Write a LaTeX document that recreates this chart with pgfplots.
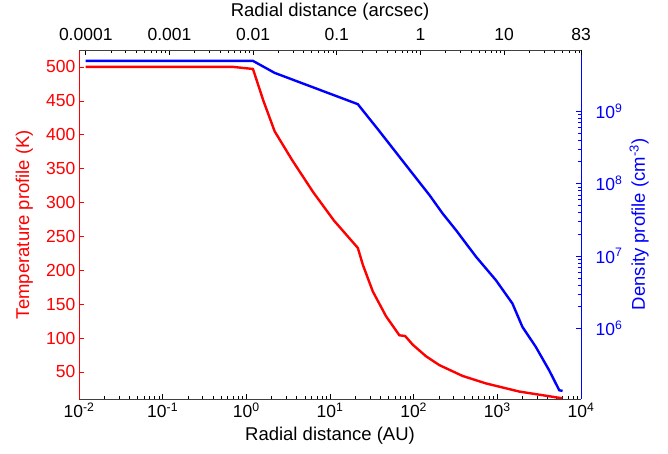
\documentclass[border=0pt]{standalone}
\usepackage{pgfplots}
\pgfplotsset{compat=1.18}
\usepackage{fontspec}
\setmainfont{Liberation Sans}
\begin{document}
\begin{tikzpicture}
\useasboundingbox (-79pt,-55pt) rectangle (589pt,399pt);
\pgfplotsset{
  every axis/.append style={
    at={(0pt,0pt)}, anchor=south west,
    scale only axis, width=502pt, height=349pt,
    font=\fontsize{17.5}{20}\selectfont,
    /pgf/number format/assume math mode=true,
    major tick length=5pt, minor tick length=3pt,
    line width=0.8pt,
    every tick/.style={line width=0.6pt},
    label style={font=\fontsize{18.5}{21}\selectfont},
  }
}
% Temperature axis (left, bottom)
\begin{axis}[name=main,
  xmode=log, xmin=1e-2, xmax=1e4,
  ymin=10, ymax=525,
  axis x line*=bottom, axis y line*=left,
  xtick={1e-2,1e-1,1e0,1e1,1e2,1e3,1e4},
  xticklabels={10\textsuperscript{-2},10\textsuperscript{-1},10\textsuperscript{0},10\textsuperscript{1},10\textsuperscript{2},10\textsuperscript{3},10\textsuperscript{4}},
  ytick={50,100,...,500},
  xlabel={Radial distance (AU)},
  ylabel={Temperature profile (K)},
  xlabel style={yshift=-2pt},
  ylabel style={red, yshift=6pt},
  y axis line style={red},
  y tick label style={red},
  ytick style={red},
  x axis line style={black!75},
]
\addplot[red, line width=2.4pt] coordinates {
(0.012,500) (0.7,500) (1.2,497) (1.6,450) (2.18,405) (3.55,362) (6.31,315)
(11.2,273) (21.5,233) (24.7,208) (32.4,169) (46.8,132) (67.5,104) (79,103)
(97.7,90) (140.6,73) (202.8,60) (384.6,44) (731,33) (1824,21) (6000,11)
};
\end{axis}
% Density axis (right)
\begin{axis}[
  xmode=log, xmin=1e-2, xmax=1e4,
  ymode=log, ymin=1.06e5, ymax=7e9,
  axis x line=none, axis y line*=right,
  ytick={1e6,1e7,1e8,1e9},
  yticklabels={10\textsuperscript{6},10\textsuperscript{7},10\textsuperscript{8},10\textsuperscript{9}},
  ylabel={Density profile (cm\textsuperscript{-3})},
  ylabel style={blue},
  y axis line style={blue},
  y tick label style={blue, xshift=11pt},
  ytick style={blue},
]
\addplot[blue, line width=2.4pt] coordinates {
(0.012,4.95e9) (1.2,4.95e9) (2.18,3.38e9) (21.5,1.25e9) (38.9,5.3e8)
(97.7,1.36e8) (155,6.9e7) (222,3.86e7) (321,2.27e7) (555,9.8e6)
(962,4.63e6) (1514,2.21e6) (1995,1.05e6) (2884,5.55e5) (4169,2.63e5)
(5495,1.4e5) (6026,1.37e5)
};
\end{axis}
% Top arcsec axis
\begin{axis}[
  xmode=log, xmin=8.299e-5, xmax=82.99,
  ymin=0, ymax=1,
  axis x line*=top, axis y line=none,
  xtick={1e-4,1e-3,1e-2,1e-1,1,10,82.99},
  xticklabels={0.0001,0.001,0.01,0.1,1,10,83},
  minor xtick={2e-4,3e-4,4e-4,5e-4,6e-4,7e-4,8e-4,9e-4,
    2e-3,3e-3,4e-3,5e-3,6e-3,7e-3,8e-3,9e-3,
    0.02,0.03,0.04,0.05,0.06,0.07,0.08,0.09,
    0.2,0.3,0.4,0.5,0.6,0.7,0.8,0.9,
    2,3,4,5,6,7,8,9,20,30,40,50,60,70,80},
  xlabel={Radial distance (arcsec)},
  x tick label style={yshift=6pt},
  x axis line style={black!75},
]
\addplot[draw=none] coordinates {(1,0.5)};
\end{axis}
\end{tikzpicture}
\end{document}
